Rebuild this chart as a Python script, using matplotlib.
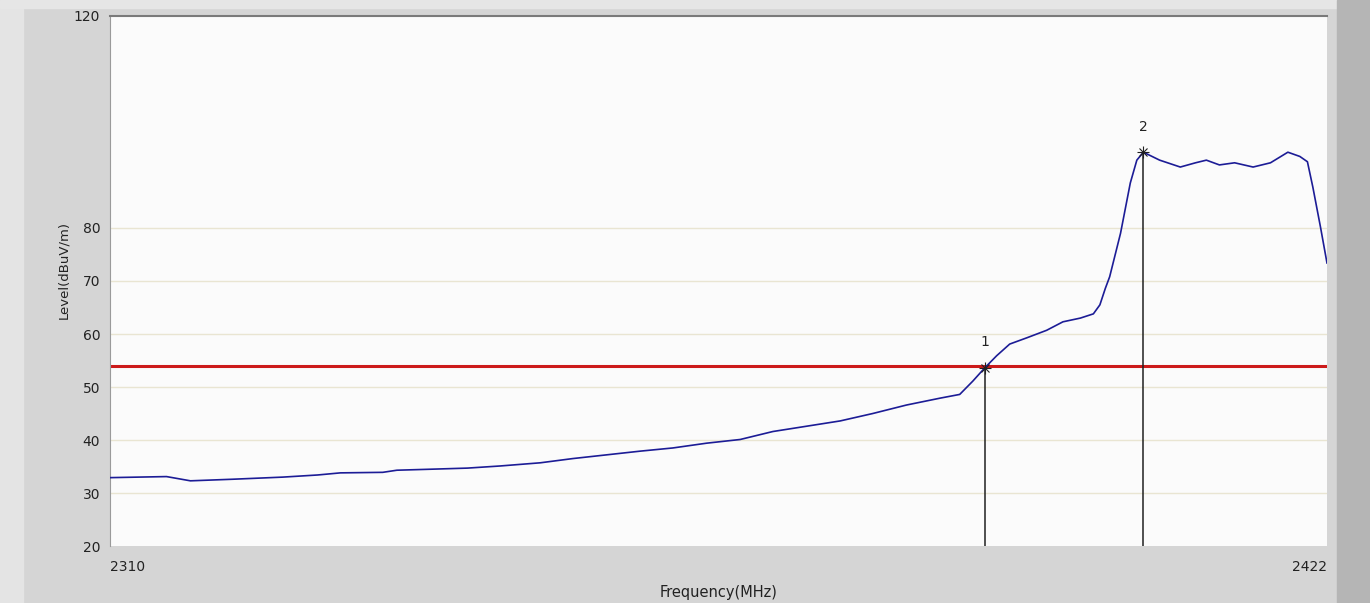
import matplotlib.pyplot as plt
from matplotlib.patches import Rectangle

# trace
freq = [2310.0, 2315.2, 2317.4, 2321.3, 2325.9, 2329.1, 2331.2, 2335.1, 2336.4,
        2339.7, 2342.9, 2345.9, 2349.6, 2352.6, 2355.7, 2358.8, 2361.8, 2364.9,
        2368.0, 2371.0, 2374.1, 2377.2, 2380.2, 2383.3, 2386.4, 2388.2, 2389.4,
        2390.5, 2391.6, 2392.8, 2394.4, 2396.2, 2397.7, 2399.3, 2400.5, 2401.1,
        2401.6, 2402.0, 2403.0, 2403.9, 2404.5, 2405.1, 2406.6, 2408.5, 2409.9,
        2410.9, 2412.1, 2413.5, 2415.2, 2416.8, 2418.4, 2419.5, 2420.2, 2420.7,
        2421.4, 2422.0]
level = [32.9, 33.1, 32.3, 32.6, 33.0, 33.4, 33.8, 33.9, 34.3,
         34.5, 34.7, 35.1, 35.7, 36.5, 37.2, 37.9, 38.5, 39.4,
         40.1, 41.6, 42.6, 43.6, 45.0, 46.6, 47.9, 48.6, 51.1,
         53.6, 55.9, 58.1, 59.3, 60.7, 62.3, 63.0, 63.8, 65.5,
         68.6, 70.8, 79.0, 88.5, 92.8, 94.3, 92.8, 91.5, 92.3,
         92.8, 91.9, 92.3, 91.5, 92.3, 94.3, 93.5, 92.5, 87.7,
         80.2, 73.4]

limit = 54.0
marker_freq = [2390.5, 2405.1]
marker_level = [53.6, 94.3]
marker_names = ["1", "2"]

y_ticks = [20, 30, 40, 50, 60, 70, 80, 120]
grid_levels = [30, 40, 50, 60, 70, 80]

fig = plt.figure(figsize=(13.7, 6.03), dpi=100, facecolor="#d5d5d5")
# window frame bands
fig.patches.append(Rectangle((0, 0), 0.017, 1, transform=fig.transFigure,
                             color="#e4e4e4", zorder=-5))
fig.patches.append(Rectangle((0, 0.986), 1, 0.014, transform=fig.transFigure,
                             color="#e6e6e6", zorder=-5))
fig.patches.append(Rectangle((0.976, 0), 0.024, 1, transform=fig.transFigure,
                             color="#b5b5b5", zorder=-4))

ax = fig.add_axes([0.0803, 0.0945, 0.8883, 0.879])
ax.set_facecolor("#fbfbfb")

for g in grid_levels:
    ax.axhline(g, color="#e9e5d2", lw=1, zorder=1)

ax.plot(freq, level, color="#1c1c96", lw=1.2, zorder=3)
ax.axhline(limit, color="#cc1a1a", lw=2.2, zorder=2)

for f, l, name in zip(marker_freq, marker_level, marker_names):
    ax.plot([f, f], [20, l], color="#202020", lw=1.1, zorder=4)
    ax.plot(f, l, marker="+", color="#202020", ms=8, mew=0.8, zorder=5)
    ax.plot(f, l, marker="x", color="#202020", ms=6, mew=0.8, zorder=5)
    ax.text(f, l + 3.5, name, ha="center", va="bottom", fontsize=10,
            color="#222222")

ax.set_xlim(2310, 2422)
ax.set_ylim(20, 120)
ax.set_yticks(y_ticks)
ax.set_yticklabels([str(t) for t in y_ticks])
ax.set_xticks([2310, 2422])
ax.set_xticklabels(["2310", "2422"])
xl = ax.get_xticklabels()
xl[0].set_horizontalalignment("left")
xl[1].set_horizontalalignment("right")
ax.tick_params(axis="both", length=0, labelsize=10, colors="#222222")
ax.tick_params(axis="y", pad=7)
ax.tick_params(axis="x", pad=10)

ax.set_xlabel("Frequency(MHz)", fontsize=10.5, color="#222222", labelpad=8)
ax.set_ylabel("Level(dBuV/m)", fontsize=9.5, color="#222222")
ax.yaxis.set_label_coords(-0.033, 0.52)

ax.spines["left"].set_color("#9a9a9a")
ax.spines["top"].set_color("#7a7a7a")
ax.spines["top"].set_linewidth(1.5)
ax.spines["right"].set_visible(False)
ax.spines["bottom"].set_visible(False)

fig.savefig("out.png", dpi=100, facecolor=fig.get_facecolor())
